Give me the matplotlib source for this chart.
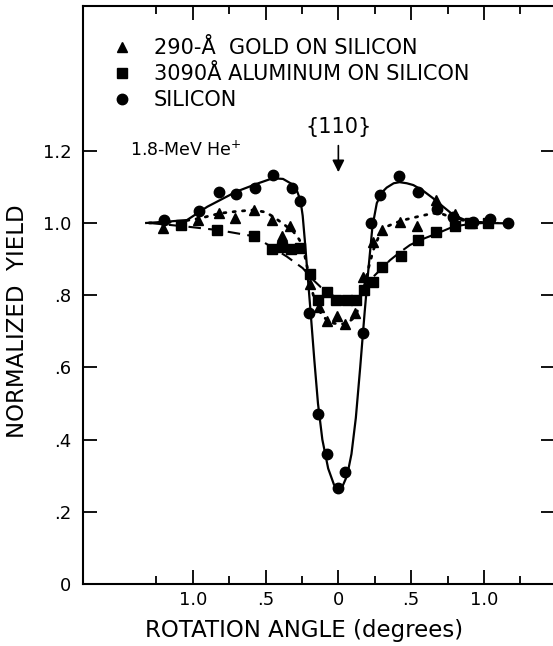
import matplotlib.pyplot as plt
from matplotlib.lines import Line2D
from matplotlib.ticker import FixedLocator

plt.rcParams['font.family'] = ['DejaVu Sans']

# measured points (rotation angle in degrees, normalized yield)
si_x = [-1.195, -0.957, -0.822, -0.703, -0.572, -0.451, -0.32, -0.261, -0.199,
        -0.14, -0.075, 0.0, 0.045, 0.17, 0.227, 0.286, 0.419, 0.55, 0.676,
        0.79, 0.927, 1.042, 1.163]
si_y = [1.008, 1.033, 1.085, 1.079, 1.096, 1.133, 1.098, 1.062, 0.750,
        0.47, 0.36, 0.265, 0.31, 0.694, 0.999, 1.078, 1.130, 1.085, 1.038,
        1.016, 1.004, 1.010, 0.999]

au_x = [-1.202, -0.962, -0.82, -0.709, -0.58, -0.454, -0.39, -0.33, -0.197,
        -0.135, -0.08, -0.012, 0.046, 0.112, 0.172, 0.24, 0.30, 0.422, 0.54,
        0.671, 0.801, 0.92]
au_y = [0.985, 1.008, 1.028, 1.013, 1.037, 1.008, 0.964, 0.992, 0.830,
        0.768, 0.728, 0.741, 0.720, 0.752, 0.851, 0.946, 0.981, 1.004, 0.993,
        1.065, 1.025, 1.0]

al_x = [-1.08, -0.835, -0.58, -0.455, -0.389, -0.325, -0.261, -0.194, -0.138,
        -0.076, -0.016, 0.058, 0.122, 0.178, 0.235, 0.30, 0.428, 0.549, 0.67,
        0.801, 0.905, 1.03]
al_y = [0.994, 0.980, 0.965, 0.929, 0.934, 0.928, 0.930, 0.859, 0.788,
        0.810, 0.787, 0.787, 0.787, 0.815, 0.836, 0.879, 0.908, 0.953, 0.976,
        0.993, 1.001, 0.999]

# hand-drawn fit curves
si_fit_x = [-1.32, -1.2, -1.04, -0.9, -0.7, -0.55, -0.45, -0.38, -0.32, -0.286,
            -0.26, -0.245, -0.23, -0.21, -0.19, -0.165, -0.14, -0.11, -0.07,
            -0.03, 0.0, 0.03, 0.06, 0.09, 0.12, 0.15, 0.18, 0.206, 0.234,
            0.264, 0.30, 0.332, 0.38, 0.42, 0.47, 0.515, 0.58, 0.652, 0.72,
            0.79, 0.86, 0.93, 1.0, 1.163]
si_fit_y = [1.0, 1.003, 1.008, 1.045, 1.087, 1.11, 1.124, 1.122, 1.108, 1.091,
            1.062, 1.02, 0.95, 0.85, 0.75, 0.62, 0.50, 0.40, 0.32,
            0.275, 0.265, 0.272, 0.30, 0.36, 0.46, 0.60, 0.75, 0.87, 0.99,
            1.055, 1.085, 1.098, 1.11, 1.113, 1.11, 1.105, 1.09, 1.068, 1.045,
            1.022, 1.01, 1.004, 1.0, 0.999]

au_fit_x = [-1.3, -1.1, -0.95, -0.81, -0.7, -0.584, -0.5, -0.446, -0.38, -0.309,
            -0.27, -0.245, -0.22, -0.19, -0.16, -0.12, -0.08, -0.03, 0.02,
            0.058, 0.1, 0.126, 0.155, 0.183, 0.21, 0.24, 0.28, 0.332, 0.39,
            0.447, 0.55, 0.652, 0.72, 0.767, 0.85, 0.95, 1.05]
au_fit_y = [1.0, 1.003, 1.013, 1.027, 1.032, 1.036, 1.03, 1.017, 0.998, 0.976,
            0.955, 0.935, 0.89, 0.83, 0.78, 0.75, 0.731, 0.722, 0.72,
            0.722, 0.735, 0.75, 0.79, 0.833, 0.88, 0.925, 0.965, 0.99, 1.0,
            1.008, 1.018, 1.027, 1.024, 1.017, 1.008, 1.002, 1.0]

al_fit_x = [-1.3, -1.041, -0.82, -0.577, -0.45, -0.354, -0.245, -0.172, -0.12,
            -0.076, -0.03, 0.012, 0.07, 0.126, 0.18, 0.24, 0.30, 0.355, 0.42,
            0.492, 0.57, 0.652, 0.72, 0.79, 0.9, 1.0, 1.1]
al_fit_y = [1.0, 0.99, 0.98, 0.963, 0.931, 0.907, 0.875, 0.842, 0.822,
            0.81, 0.797, 0.787, 0.788, 0.796, 0.82, 0.851, 0.875, 0.897, 0.918,
            0.939, 0.954, 0.967, 0.978, 0.99, 0.997, 1.0, 1.0]

x_major = [-1.0, -0.5, 0.0, 0.5, 1.0]
x_major_labels = ['1.0', '.5', '0', '.5', '1.0']
x_minor = [-1.25, -0.75, -0.25, 0.25, 0.75, 1.25]
y_major = [0.0, 0.2, 0.4, 0.6, 0.8, 1.0, 1.2]
y_major_labels = ['0', '.2', '.4', '.6', '.8', '1.0', '1.2']

legend_labels = ['290-Å  GOLD ON SILICON', '3090Å ALUMINUM ON SILICON', 'SILICON']

fig = plt.figure(figsize=(5.53, 6.46), dpi=100)
W, H = 553, 646
ax = fig.add_axes([82.7 / W, 1 - 584 / H, (555 - 82.7) / W, (584 - 6) / H])

ax.plot(si_fit_x, si_fit_y, color='black', lw=1.6, ls='-')
ax.plot(au_fit_x, au_fit_y, color='black', lw=2.0, ls=(0, (0.8, 2.6)),
        dash_capstyle='round')
ax.plot(al_fit_x, al_fit_y, color='black', lw=1.5, ls=(0, (6, 3.5)))

ax.plot(si_x, si_y, 'o', color='black', ms=7.5, ls='none')
ax.plot(au_x, au_y, '^', color='black', ms=7.5, ls='none')
ax.plot(al_x, al_y, 's', color='black', ms=6.5, ls='none')

ax.set_xlim(-1.756, 1.488)
ax.set_ylim(0, 1.601)

ax.xaxis.set_major_locator(FixedLocator(x_major))
ax.xaxis.set_minor_locator(FixedLocator(x_minor))
ax.set_xticklabels(x_major_labels)
ax.set_yticks(y_major)
ax.set_yticklabels(y_major_labels)

ax.tick_params(which='both', direction='in', top=True, right=True,
               width=1.3, labelsize=13)
ax.tick_params(axis='x', pad=5)
ax.tick_params(axis='y', pad=8)
ax.tick_params(which='major', length=10)
ax.tick_params(which='minor', length=5.5)
for sp in ax.spines.values():
    sp.set_linewidth(1.5)

ax.set_xlabel('ROTATION ANGLE (degrees)', fontsize=16.5)
ax.xaxis.set_label_coords(0.4686, -0.061)
ax.set_ylabel('NORMALIZED  YIELD', fontsize=16.5)
ax.yaxis.set_label_coords(-0.113, 0.455)

ax.text(-1.43, 1.202, '1.8-MeV He$^{+}$', fontsize=12.5, ha='left', va='center')
ax.text(0.0, 1.265, '{110}', fontsize=15, ha='center', va='center')
ax.annotate('', xy=(0.0, 1.133), xytext=(0.0, 1.222),
            arrowprops=dict(arrowstyle='-|>', color='black', lw=1.2,
                            mutation_scale=18))

handles = [Line2D([], [], marker='^', color='black', ls='none', ms=7.5),
           Line2D([], [], marker='s', color='black', ls='none', ms=6.5),
           Line2D([], [], marker='o', color='black', ls='none', ms=7.5)]
ax.legend(handles, legend_labels, loc='upper left',
          bbox_to_anchor=((112 - 82.7) / 472.3, (584 - 38) / 578),
          frameon=False, fontsize=15, handlelength=1.0, handletextpad=1.0,
          labelspacing=0.3, borderpad=0, borderaxespad=0)

fig.savefig('out.png', dpi=100)
